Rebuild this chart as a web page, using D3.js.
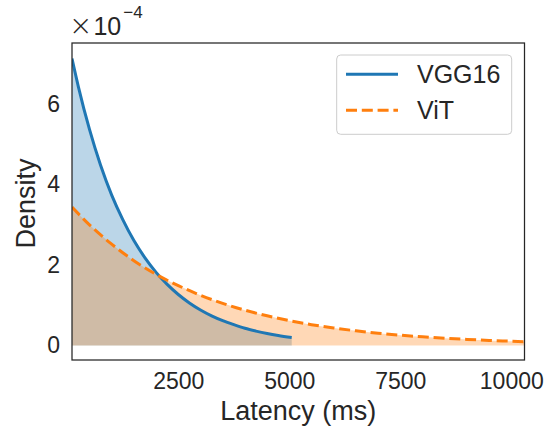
<!DOCTYPE html>
<html>
<head>
<meta charset="utf-8">
<script src="https://cdn.jsdelivr.net/npm/d3@7"></script>
<style>
  html, body { margin: 0; padding: 0; background: #fff; }
  svg { display: block; }
  text { font-family: Arial, "Liberation Sans", sans-serif; fill: #262626; }
</style>
</head>
<body>
<svg id="chart" width="547" height="429"></svg>
<script>
// ---- data (density values in units of 1e-4) ----
const vggX = [106, 250, 500, 750, 1000, 1250, 1500, 1750, 2000, 2250, 2500, 2750, 3000, 3250, 3500, 3750, 4000, 4250, 4500, 4750, 5054];
const vggY = [7.13, 6.43, 5.37, 4.48, 3.74, 3.13, 2.61, 2.18, 1.82, 1.52, 1.27, 1.06, 0.885, 0.74, 0.62, 0.52, 0.43, 0.36, 0.30, 0.25, 0.20];
const vitX = [106, 500, 1000, 1500, 2000, 2500, 3000, 3500, 4000, 4500, 5000, 5500, 6000, 6500, 7000, 7500, 8000, 8500, 9000, 9500, 10000, 10297];
const vitY = [3.44, 3.00, 2.52, 2.11, 1.77, 1.49, 1.25, 1.05, 0.88, 0.74, 0.62, 0.52, 0.437, 0.367, 0.308, 0.259, 0.217, 0.182, 0.153, 0.128, 0.108, 0.097];
const seriesNames = ["VGG16", "ViT"];
const xTicks = [2500, 5000, 7500, 10000];
const yTicks = [0, 2, 4, 6];
const xLabel = "Latency (ms)";
const yLabel = "Density";

const svg = d3.select("#chart");
const L = 72, R = 524.5, T = 43, B = 360;

const x = d3.scaleLinear().domain([106, 10297]).range([L, R]);
const y = d3.scaleLinear().domain([-0.358, 7.518]).range([B, T]);

const vgg = vggX.map((v, i) => [v, vggY[i]]);
const vit = vitX.map((v, i) => [v, vitY[i]]);

svg.append("defs").append("clipPath").attr("id", "clip")
  .append("rect").attr("x", L).attr("y", T).attr("width", R - L).attr("height", B - T);

const g = svg.append("g").attr("clip-path", "url(#clip)");

const area = d3.area().x(d => x(d[0])).y0(y(0)).y1(d => y(d[1])).curve(d3.curveMonotoneX);
const line = d3.line().x(d => x(d[0])).y(d => y(d[1])).curve(d3.curveMonotoneX);

g.append("path").datum(vgg).attr("d", area).attr("fill", "#1f77b4").attr("fill-opacity", 0.3);
g.append("path").datum(vit).attr("d", area).attr("fill", "#ff7f0e").attr("fill-opacity", 0.3);
g.append("path").datum(vgg).attr("d", line).attr("fill", "none").attr("stroke", "#1f77b4").attr("stroke-width", 3);
g.append("path").datum(vit).attr("d", line).attr("fill", "none").attr("stroke", "#ff7f0e")
  .attr("stroke-width", 3).attr("stroke-dasharray", "11,4.8");

// frame
svg.append("rect").attr("x", L).attr("y", T).attr("width", R - L).attr("height", B - T)
  .attr("fill", "none").attr("stroke", "#262626").attr("stroke-width", 1.25);

// axes
const xAxis = d3.axisBottom(x).tickValues(xTicks).tickSize(0).tickPadding(13).tickFormat(d3.format("d"));
const xg = svg.append("g").attr("transform", `translate(0,${B})`).call(xAxis);
xg.select(".domain").remove();
xg.selectAll("text").attr("font-size", 23).style("font-family", "Arial, 'Liberation Sans', sans-serif").attr("fill", "#262626");

const yAxis = d3.axisLeft(y).tickValues(yTicks).tickSize(0).tickPadding(12).tickFormat(d3.format("d"));
const yg = svg.append("g").attr("transform", `translate(${L},0)`).call(yAxis);
yg.select(".domain").remove();
yg.selectAll("text").attr("font-size", 23).style("font-family", "Arial, 'Liberation Sans', sans-serif").attr("fill", "#262626");

// axis labels
svg.append("text").attr("x", (L + R) / 2).attr("y", 420).attr("text-anchor", "middle")
  .attr("font-size", 27).text(xLabel);
svg.append("text").attr("transform", `translate(35,${(T + B) / 2 + 2}) rotate(-90)`)
  .attr("text-anchor", "middle").attr("font-size", 27).text(yLabel);

// offset text
const off = svg.append("text").attr("x", 69).attr("y", 35).attr("font-size", 25);
off.append("tspan").style("font-family", "'DejaVu Sans', sans-serif").style("font-weight", 200)
  .attr("font-size", 28).text("\u00d7");
off.append("tspan").attr("dx", 1).text("10");
off.append("tspan").attr("dx", 2).attr("dy", -17).attr("font-size", 17).text("\u22124");

// legend
const lg = svg.append("g");
lg.append("rect").attr("x", 336.7).attr("y", 55).attr("width", 175).attr("height", 79.3)
  .attr("rx", 4).attr("fill", "#fff").attr("fill-opacity", 0.8).attr("stroke", "#cccccc").attr("stroke-width", 1);
const legItems = [
  { name: seriesNames[0], color: "#1f77b4", dash: null, yy: 74.3 },
  { name: seriesNames[1], color: "#ff7f0e", dash: "11,4.8", yy: 110.3 }
];
legItems.forEach(it => {
  const ln = lg.append("line").attr("x1", 346).attr("x2", 398).attr("y1", it.yy).attr("y2", it.yy)
    .attr("stroke", it.color).attr("stroke-width", 3);
  if (it.dash) ln.attr("stroke-dasharray", it.dash);
  lg.append("text").attr("x", 417).attr("y", it.yy + 9).attr("font-size", 25).text(it.name);
});
</script>
</body>
</html>
